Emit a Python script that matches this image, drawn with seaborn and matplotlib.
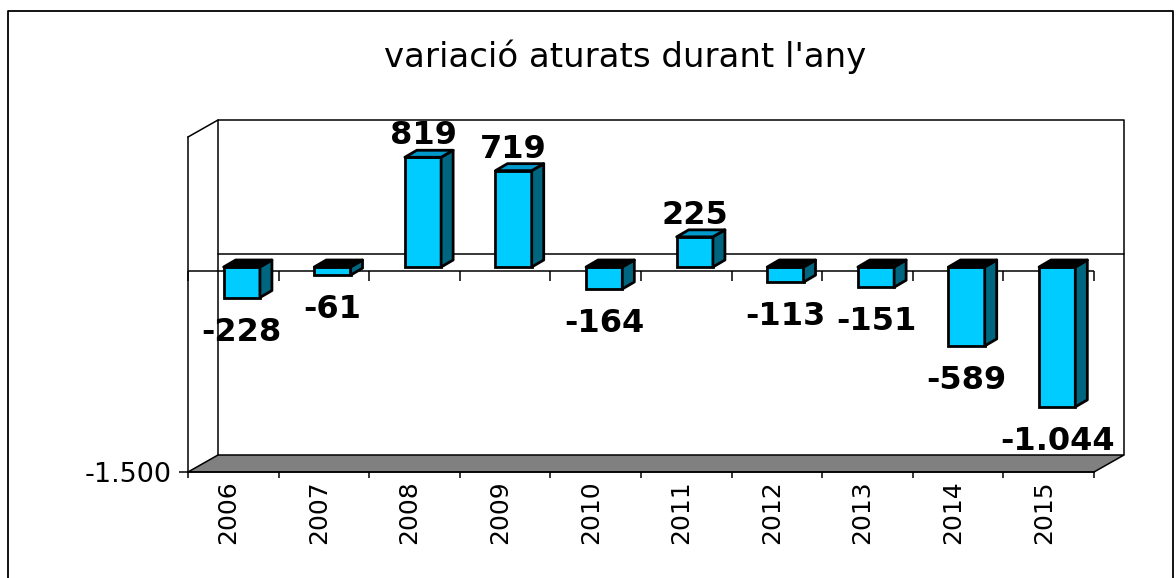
import numpy as np
import pandas as pd
import matplotlib
matplotlib.use("Agg")
import matplotlib.pyplot as plt
import seaborn as sns
from matplotlib.transforms import ScaledTranslation, IdentityTransform
from matplotlib.patches import Polygon
from matplotlib.lines import Line2D

# ---------------- data ----------------
years = ["2006", "2007", "2008", "2009", "2010", "2011", "2012", "2013", "2014", "2015"]
values = [-228, -61, 819, 719, -164, 225, -113, -151, -589, -1044]
value_labels = ["-228", "-61", "819", "719", "-164", "225", "-113", "-151", "-589", "-1.044"]
title_text = "variació aturats durant l'any"
y_min, y_max = -1500, 1000
y_ticks = [-1500]
y_tick_labels = ["-1.500"]

# ---------------- style ----------------
W, H = 1176, 578
sns.set_theme(style="white")
plt.rcParams["font.family"] = ["DejaVu Sans"]

FRONT = "#00CCFF"
SIDE = "#006680"
TOP_POS = "#0099CC"
TOP_NEG = "#000000"
FLOOR = "#808080"

fig = plt.figure(figsize=(W / 100, H / 100), dpi=100)
fig.patch.set_facecolor("white")

# front plane of the 3D box (pixels)
L, R, T, B = 188, 1094, 137, 472
ax = fig.add_axes([L / W, 1 - B / H, (R - L) / W, (B - T) / H])
ax.set_facecolor("none")

df = pd.DataFrame({"year": years, "value": values})
sns.barplot(data=df, x="year", y="value", color=FRONT, saturation=1, width=0.4,
            edgecolor="black", linewidth=2.0, ax=ax, zorder=6)
ax.set_xlim(-0.5, len(years) - 0.5)
ax.set_ylim(y_min, y_max)
ax.set_xlabel("")
ax.set_ylabel("")

# depth offsets in pixels
bar_shift = np.array([8.5, 4.0])
bar_depth = np.array([12.0, 7.0])
wall_shift = np.array([30.0, 17.0])

ident = IdentityTransform()
lw_axis = 1.1
lw_bar = 2.0

# floor
corners = ax.transAxes.transform([[0, 0], [1, 0]])
floor = Polygon([corners[0], corners[1], corners[1] + wall_shift, corners[0] + wall_shift],
                closed=True, facecolor=FLOOR, edgecolor="black", linewidth=lw_axis,
                transform=ident, clip_on=False, zorder=2)
ax.add_artist(floor)

# back wall frame
bl, br, tr, tl = ax.transAxes.transform([[0, 0], [1, 0], [1, 1], [0, 1]])
back = np.array([bl, tl, tr, br]) + wall_shift
ax.add_artist(Line2D(back[:, 0], back[:, 1], color="black", linewidth=lw_axis,
                     transform=ident, clip_on=False, zorder=2))
# left side wall top edge
side_top = np.array([tl, tl + wall_shift])
ax.add_artist(Line2D(side_top[:, 0], side_top[:, 1], color="black", linewidth=lw_axis,
                     transform=ident, clip_on=False, zorder=2))
# back zero gridline
z0 = ax.transData.transform([[-0.5, 0], [len(years) - 0.5, 0]]) + wall_shift
ax.add_artist(Line2D(z0[:, 0], z0[:, 1], color="black", linewidth=lw_axis,
                     transform=ident, clip_on=False, zorder=2))

# front zero line with category boundary ticks
bounds = np.arange(len(years) + 1) - 0.5
ax.axhline(0, color="black", linewidth=lw_axis, zorder=3)
ax.plot(bounds, np.zeros_like(bounds), linestyle="", marker=3, markersize=7,
        markeredgewidth=lw_axis, color="black", zorder=3, clip_on=False)

# spines / ticks
for s in ["top", "right"]:
    ax.spines[s].set_visible(False)
for s in ["left", "bottom"]:
    ax.spines[s].set_visible(True)
    ax.spines[s].set_color("black")
    ax.spines[s].set_linewidth(lw_axis)
    ax.spines[s].set_zorder(3)

ax.set_yticks(y_ticks)
ax.set_yticklabels(y_tick_labels, fontsize=19.5, color="black")
ax.tick_params(axis="y", which="major", direction="out", length=6.5, width=lw_axis,
               color="black", pad=5, left=True)
ax.set_xticks(range(len(years)))
ax.set_xticklabels(years, rotation=90, fontsize=18, color="black")
ax.set_xticks(bounds, minor=True)
ax.tick_params(axis="x", which="major", length=0, pad=6)
ax.tick_params(axis="x", which="minor", direction="out", length=4.5, width=lw_axis,
               color="black", bottom=True)
for lab in ax.get_xticklabels():
    lab.set_transform(lab.get_transform() + ScaledTranslation(-5 / 100, 0, fig.dpi_scale_trans))

# 3D bars: shift front faces, add side and top faces, and labels
shift_tr = ScaledTranslation(bar_shift[0] / 100, bar_shift[1] / 100, fig.dpi_scale_trans)
bars = [p for p in ax.patches]
for patch, val, lab in zip(bars, values, value_labels):
    x0, y0 = patch.get_x(), patch.get_y()
    w, h = patch.get_width(), patch.get_height()
    patch.set_transform(ax.transData + shift_tr)
    patch.set_clip_on(False)
    pts = ax.transData.transform([[x0, min(y0, y0 + h)], [x0 + w, max(y0, y0 + h)]]) + bar_shift
    xl, yb = pts[0]
    xr, yt = pts[1]
    dx, dy = bar_depth
    side = Polygon([[xr, yb], [xr + dx, yb + dy], [xr + dx, yt + dy], [xr, yt]], closed=True,
                   facecolor=SIDE, edgecolor="black", linewidth=lw_bar, joinstyle="round",
                   transform=ident, clip_on=False, zorder=6)
    top = Polygon([[xl, yt], [xl + dx, yt + dy], [xr + dx, yt + dy], [xr, yt]], closed=True,
                  facecolor=TOP_POS if val >= 0 else TOP_NEG, edgecolor="black", linewidth=lw_bar,
                  joinstyle="round", transform=ident, clip_on=False, zorder=6)
    ax.add_artist(side)
    ax.add_artist(top)
    cx = (xl + xr) / 2
    if val >= 0:
        ax.text(cx, yt + 13, lab, ha="center", va="baseline", fontsize=23, fontweight="bold",
                color="black", transform=ident, zorder=8, clip_on=False)
    else:
        ax.text(cx, yb - 19, lab, ha="center", va="top", fontsize=23, fontweight="bold",
                color="black", transform=ident, zorder=8, clip_on=False)

# title
fig.text(625 / W, 1 - 57 / H, title_text, ha="center", va="center", fontsize=24.5, color="black")

# outer border
bx0, bx1, by1 = 8 / W, 1173 / W, 1 - 11 / H
fig.add_artist(Line2D([bx0, bx0, bx1, bx1], [0, by1, by1, 0], transform=fig.transFigure,
                      color="black", linewidth=1.3))

fig.savefig("out.png", dpi=100, facecolor="white")
